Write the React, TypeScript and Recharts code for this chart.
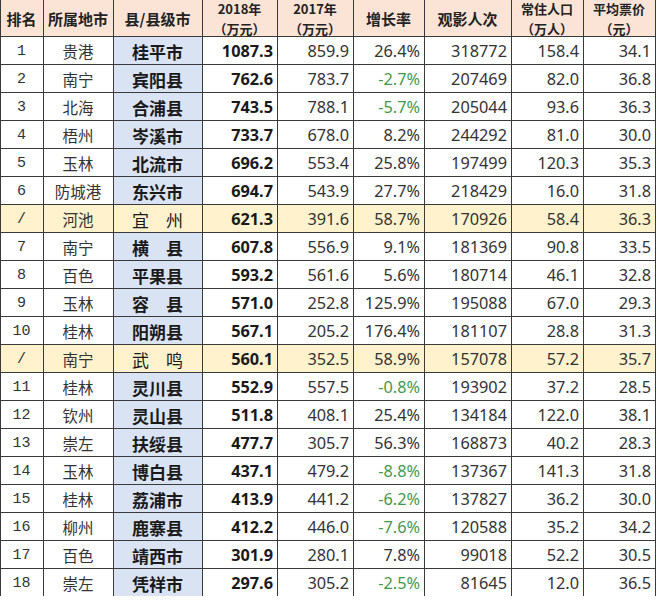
import { Bar, BarChart, XAxis, YAxis } from "recharts";

const ranks = ["1", "2", "3", "4", "5", "6", "/", "7", "8", "9", "10", "/", "11", "12", "13", "14", "15", "16", "17", "18"];
const cities = ["贵港", "南宁", "北海", "梧州", "玉林", "防城港", "河池", "南宁", "百色", "玉林", "桂林", "南宁", "桂林", "钦州", "崇左", "玉林", "桂林", "柳州", "百色", "崇左"];
const counties = ["桂平市", "宾阳县", "合浦县", "岑溪市", "北流市", "东兴市", "宜　州", "横　县", "平果县", "容　县", "阳朔县", "武　鸣", "灵川县", "灵山县", "扶绥县", "博白县", "荔浦市", "鹿寨县", "靖西市", "凭祥市"];
const box2018 = [1087.3, 762.6, 743.5, 733.7, 696.2, 694.7, 621.3, 607.8, 593.2, 571.0, 567.1, 560.1, 552.9, 511.8, 477.7, 437.1, 413.9, 412.2, 301.9, 297.6];
const box2017 = [859.9, 783.7, 788.1, 678.0, 553.4, 543.9, 391.6, 556.9, 561.6, 252.8, 205.2, 352.5, 557.5, 408.1, 305.7, 479.2, 441.2, 446.0, 280.1, 305.2];
const growth = [26.4, -2.7, -5.7, 8.2, 25.8, 27.7, 58.7, 9.1, 5.6, 125.9, 176.4, 58.9, -0.8, 25.4, 56.3, -8.8, -6.2, -7.6, 7.8, -2.5];
const viewers = [318772, 207469, 205044, 244292, 197499, 218429, 170926, 181369, 180714, 195088, 181107, 157078, 193902, 134184, 168873, 137367, 137827, 120588, 99018, 81645];
const population = [158.4, 82.0, 93.6, 81.0, 120.3, 16.0, 58.4, 90.8, 46.1, 67.0, 28.8, 57.2, 37.2, 122.0, 40.2, 141.3, 36.2, 35.2, 52.2, 12.0];
const price = [34.1, 36.8, 36.3, 30.0, 35.3, 31.8, 36.3, 33.5, 32.8, 29.3, 31.3, 35.7, 28.5, 38.1, 28.3, 31.8, 30.0, 34.2, 30.5, 36.5];

const headerLabels = [
  ["排名"],
  ["所属地市"],
  ["县/县级市"],
  ["2018年", "（万元）"],
  ["2017年", "（万元）"],
  ["增长率"],
  ["观影人次"],
  ["常住人口", "（万人）"],
  ["平均票价", "（元）"],
];

const rows = ranks.map((rank, i) => ({
  key: `r${i}`,
  rank,
  city: cities[i],
  county: counties[i],
  b18: box2018[i],
  b17: box2017[i],
  growth: growth[i],
  viewers: viewers[i],
  pop: population[i],
  price: price[i],
}));

type Row = (typeof rows)[number];

const TABLE_W = 657;
const ROW_H = 28;
const HEAD_H = 38;
const HEAD_PAD = 3; // blank strip under the header svg so its text box is not clipped

const LINE = "#3a3a3a";
const HEAD_BG = "#fbe4d5";
const COUNTY_BG = "#dae3f3";
const MARK_BG = "#fff2cc";
const GREEN = "#3f9a4a";
const CN = "'Noto Sans CJK SC', sans-serif";
const NUM = "'Noto Sans', 'Noto Sans CJK SC', sans-serif";

type Col = {
  id: string;
  width: number;
  align: "middle" | "end";
  text: (r: Row) => string;
  font?: string;
  size?: number;
  bold?: boolean;
  color?: (r: Row) => string;
  bg?: string;
};

const columns: Col[] = [
  { id: "rank", width: 43, align: "middle", text: (r) => r.rank, font: "'Liberation Mono', monospace", size: 15 },
  { id: "city", width: 70, align: "middle", text: (r) => r.city, font: CN, size: 15.5 },
  { id: "county", width: 89, align: "middle", text: (r) => r.county, font: CN, size: 17, bold: true, bg: COUNTY_BG },
  { id: "b18", width: 75, align: "end", text: (r) => r.b18.toFixed(1), bold: true },
  { id: "b17", width: 76, align: "end", text: (r) => r.b17.toFixed(1) },
  { id: "growth", width: 71, align: "end", text: (r) => `${r.growth.toFixed(1)}%`, color: (r) => (r.growth < 0 ? GREEN : "#333") },
  { id: "viewers", width: 87, align: "end", text: (r) => String(r.viewers) },
  { id: "pop", width: 72, align: "end", text: (r) => r.pop.toFixed(1) },
  { id: "price", width: 72, align: "end", text: (r) => r.price.toFixed(1) },
];

function bodyCell(col: Col) {
  return (props: any) => {
    const { x, y, width, height, payload } = props;
    const marked = payload.rank === "/";
    const fill = marked ? MARK_BG : col.bg || "#fff";
    const tx = col.align === "middle" ? x + width / 2 : x + width - 4;
    return (
      <g>
        <rect x={x + 0.5} y={y + 0.5} width={width} height={height} fill={fill} stroke={LINE} strokeWidth={1} shapeRendering="crispEdges" />
        <text
          x={tx}
          y={y + height / 2 + 1}
          textAnchor={col.align}
          dominantBaseline="central"
          fontFamily={col.font || NUM}
          fontSize={col.size || 16.3}
          fontWeight={col.bold && !(marked && col.id === "county") ? 700 : 400}
          fill={col.color ? col.color(payload) : col.bold ? "#1a1a1a" : "#333"}
        >
          {col.text(payload)}
        </text>
      </g>
    );
  };
}

function headCell(ci: number) {
  return (props: any) => {
    const { x, y, width, height } = props;
    const lines = headerLabels[ci];
    const two = lines.length > 1;
    const gap = 20;
    const cx = x + width / 2;
    const cy = y + height / 2 + 1;
    return (
      <g>
        <rect x={x + 0.5} y={y + 0.5} width={width} height={height} fill={HEAD_BG} stroke={LINE} strokeWidth={1} shapeRendering="crispEdges" />
        <text
          x={cx}
          y={cy - ((lines.length - 1) / 2) * gap}
          textAnchor="middle"
          dominantBaseline="central"
          fontFamily={CN}
          fontSize={two ? 13 : 15}
          fontWeight={700}
          fill="#222"
        >
          {lines.map((t, li) => (
            <tspan key={li} x={cx} dy={li === 0 ? 0 : gap}>
              {t}
            </tspan>
          ))}
        </text>
      </g>
    );
  };
}

export default function App() {
  return (
    <div style={{ position: "absolute", left: 0, top: 0, width: TABLE_W, height: 600, overflow: "hidden", background: "#fff" }}>
      <div style={{ marginTop: -2 }}>
        <BarChart width={TABLE_W} height={HEAD_H + HEAD_PAD} data={[{ key: "head" }]} layout="vertical" margin={{ top: 0, right: 0, bottom: HEAD_PAD, left: 0 }} barCategoryGap={0} barGap={0}>
          <XAxis type="number" domain={[0, TABLE_W]} hide />
          <YAxis type="category" dataKey="key" hide width={0} />
          {columns.map((c, ci) => (
            <Bar key={c.id} dataKey={() => c.width} stackId="head" shape={headCell(ci)} isAnimationActive={false} />
          ))}
        </BarChart>
        <div style={{ marginTop: -HEAD_PAD }}>
          <BarChart width={TABLE_W} height={ROW_H * rows.length} data={rows} layout="vertical" margin={{ top: 0, right: 0, bottom: 0, left: 0 }} barCategoryGap={0} barGap={0}>
            <XAxis type="number" domain={[0, TABLE_W]} hide />
            <YAxis type="category" dataKey="key" hide width={0} />
            {columns.map((c) => (
              <Bar key={c.id} dataKey={() => c.width} stackId="body" shape={bodyCell(c)} isAnimationActive={false} />
            ))}
          </BarChart>
        </div>
      </div>
    </div>
  );
}
